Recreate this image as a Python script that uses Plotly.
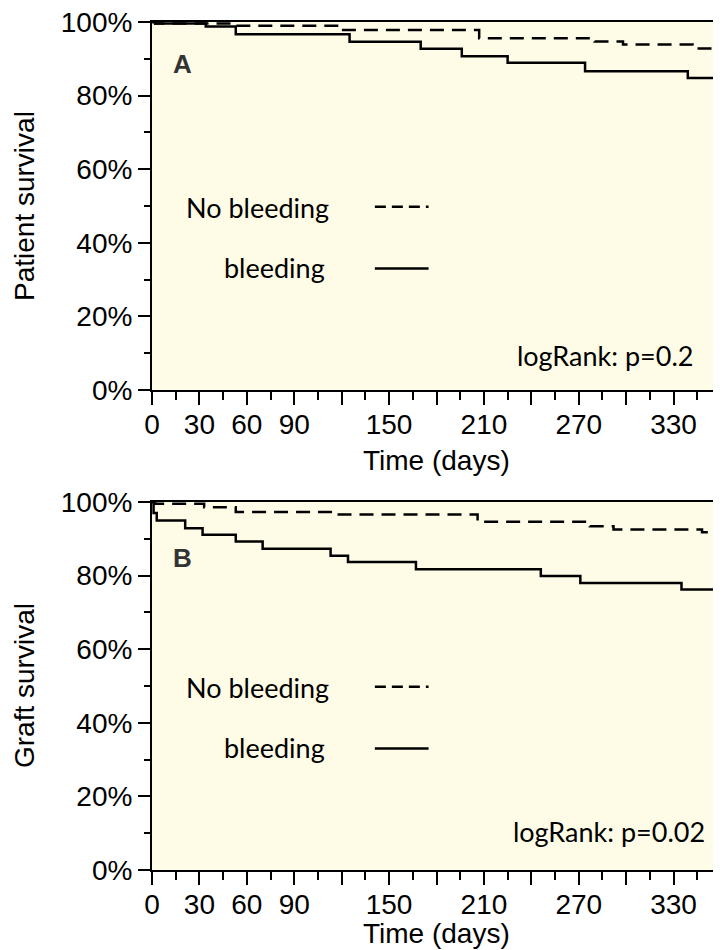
import plotly.graph_objects as go

# ---------------- data ----------------
# Panel A: Patient survival (Kaplan-Meier steps, % surviving)
a_nobleed_t = [0, 2, 53, 118, 207, 280, 298, 342, 360]
a_nobleed_s = [100, 99.6, 99.0, 97.8, 95.6, 94.7, 93.9, 92.8, 92.8]
a_bleed_t = [0, 2, 34, 53, 125, 170, 196, 225, 274, 339, 360]
a_bleed_s = [100, 99.6, 98.8, 96.7, 94.6, 92.7, 90.7, 88.9, 86.6, 84.8, 84.8]

# Panel B: Graft survival
b_nobleed_t = [0, 2, 33, 53, 115, 206, 277, 292, 348, 360]
b_nobleed_s = [100, 99.5, 98.6, 97.3, 96.6, 94.6, 93.4, 92.5, 91.8, 91.8]
b_bleed_t = [0, 1, 3, 21, 32, 53, 70, 113, 124, 167, 246, 271, 335, 360]
b_bleed_s = [100, 97.0, 95.0, 92.9, 91.1, 89.3, 87.3, 85.4, 83.7, 81.7, 79.9, 78.0, 76.2, 76.2]

x_tickvals = [0, 30, 60, 90, 120, 150, 180, 210, 240, 270, 300, 330, 360]
x_ticktext = ["0", "30", "60", "90", "", "150", "", "210", "", "270", "", "330", ""]
y_tickvals = [0, 20, 40, 60, 80, 100]
y_ticktext = ["0%", "20%", "40%", "60%", "80%", "100%"]

panel_letters = ["A", "B"]
y_titles = ["Patient survival", "Graft survival"]
x_title = "Time (days)"
legend_labels = ["No bleeding", "bleeding"]
pvalue_texts = ["logRank: p=0.2", "logRank: p=0.02"]

# ---------------- styling ----------------
BG = "#FEFCE6"
AXFAMILY = "Liberation Sans, Arial, Helvetica, sans-serif"
TICKFONT = dict(family=AXFAMILY, size=28, color="black")
NOTEFONT = dict(family="Lato, Open Sans, sans-serif", size=27, color="black")
LINE_W = 2.5
DASH = "14px,8px"

L, R, T, B = 144, 8, 14, 88
W, H = 721, 950
PW, PH = W - L - R, H - T - B
domA = [(H - B - 382) / PH, 1.0]
domB = [0.0, (H - B - 494) / PH]

fig = go.Figure()

panels = [
    ("x", "y", a_nobleed_t, a_nobleed_s, a_bleed_t, a_bleed_s),
    ("x2", "y2", b_nobleed_t, b_nobleed_s, b_bleed_t, b_bleed_s),
]
for xa, ya, nt, ns, bt, bs in panels:
    fig.add_trace(go.Scatter(x=nt, y=ns, mode="lines", line_shape="hv",
                             line=dict(color="black", width=LINE_W, dash=DASH),
                             xaxis=xa, yaxis=ya, showlegend=False, name="No bleeding"))
    fig.add_trace(go.Scatter(x=bt, y=bs, mode="lines", line_shape="hv",
                             line=dict(color="black", width=LINE_W),
                             xaxis=xa, yaxis=ya, showlegend=False, name="bleeding"))


def xaxis_cfg(anchor):
    return dict(
        domain=[0, 1], range=[0, 360], anchor=anchor, automargin=False,
        showline=True, linecolor="black", linewidth=2, mirror=True,
        showgrid=False, zeroline=False,
        ticks="outside", ticklen=13, tickwidth=2, tickcolor="black",
        tickmode="array", tickvals=x_tickvals, ticktext=x_ticktext, tickfont=TICKFONT,
        ticklabelstandoff=-5,
        minor=dict(dtick=15, tick0=0, ticks="outside", ticklen=8, tickwidth=2, tickcolor="black"),
    )


def yaxis_cfg(anchor, domain):
    return dict(
        domain=domain, range=[0, 100], anchor=anchor, automargin=False,
        showline=True, linecolor="black", linewidth=2, mirror=True,
        showgrid=False, zeroline=False,
        ticks="outside", ticklen=12, tickwidth=2, tickcolor="black",
        tickmode="array", tickvals=y_tickvals, ticktext=y_ticktext, tickfont=TICKFONT,
        ticklabeloverflow="allow",
        minor=dict(dtick=10, tick0=0, ticks="outside", ticklen=6, tickwidth=2, tickcolor="black"),
    )


fig.update_layout(
    width=W, height=H,
    margin=dict(l=L, r=R, t=T, b=B),
    paper_bgcolor="white", plot_bgcolor=BG,
    xaxis=xaxis_cfg("y"),
    yaxis=yaxis_cfg("x", domA),
    xaxis2=xaxis_cfg("y2"),
    yaxis2=yaxis_cfg("x2", domB),
)

# axis titles as annotations (precise placement)
ytitle_x = (16 - L) / PW
xtitle_shift = [-70, -63]
for i, dom in enumerate([domA, domB]):
    fig.add_annotation(x=0.5, y=dom[0], xref="paper", yref="paper", text=x_title,
                       showarrow=False, xanchor="center", yanchor="middle",
                       yshift=xtitle_shift[i], font=TICKFONT)
    fig.add_annotation(x=ytitle_x, y=(dom[0] + dom[1]) / 2, xref="paper", yref="paper",
                       text=y_titles[i], textangle=-90, showarrow=False,
                       xanchor="center", yanchor="middle", font=TICKFONT)

# legend-like annotations, panel letters, p-values
letter_y = [88.6, 84.8]
pval_x = [343.5, 351]
pval_y = [9.5, 10.5]
for i, (xr, yr) in enumerate([("x", "y"), ("x2", "y2")]):
    fig.add_annotation(x=19, y=letter_y[i], xref=xr, yref=yr, text=panel_letters[i],
                       showarrow=False, xanchor="center", yanchor="middle",
                       font=dict(family="Liberation Sans, Arial, sans-serif", size=26,
                                 color="#333333", weight="bold"))
    fig.add_annotation(x=113.5, y=49.7, xref=xr, yref=yr, text=legend_labels[0],
                       showarrow=False, xanchor="right", yanchor="middle", font=NOTEFONT)
    fig.add_annotation(x=110.5, y=33.3, xref=xr, yref=yr, text=legend_labels[1],
                       showarrow=False, xanchor="right", yanchor="middle", font=NOTEFONT)
    fig.add_shape(type="line", x0=141, x1=175, y0=49.8, y1=49.8, xref=xr, yref=yr,
                  line=dict(color="black", width=LINE_W, dash="11px,6px"))
    fig.add_shape(type="line", x0=141, x1=175, y0=33, y1=33, xref=xr, yref=yr,
                  line=dict(color="black", width=LINE_W))
    fig.add_annotation(x=pval_x[i], y=pval_y[i], xref=xr, yref=yr, text=pvalue_texts[i],
                       showarrow=False, xanchor="right", yanchor="middle", font=NOTEFONT)

fig.write_html("out.html")
